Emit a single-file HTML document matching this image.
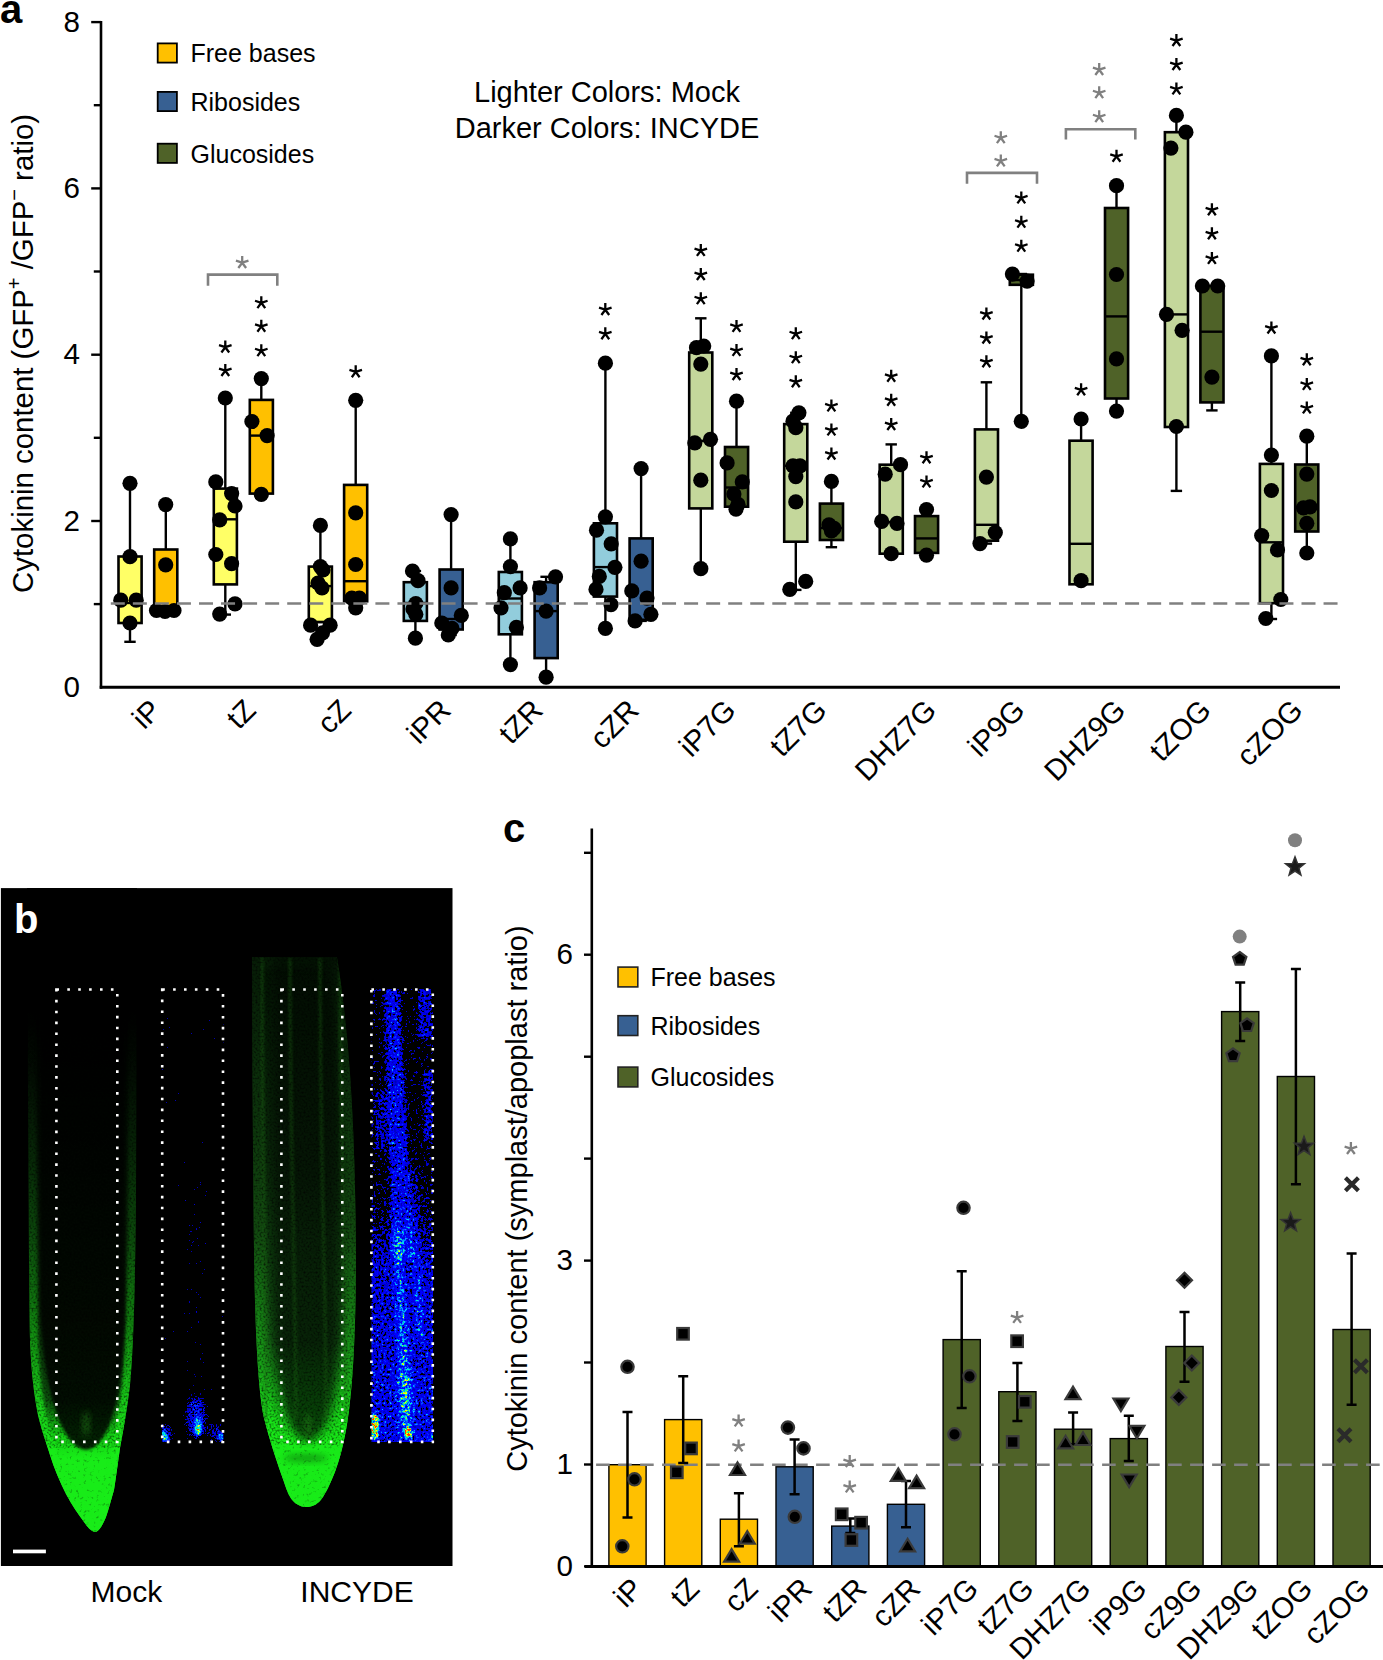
<!DOCTYPE html>
<html><head><meta charset="utf-8"><title>figure</title>
<style>
html,body{margin:0;padding:0;background:#fff;}
svg{display:block;}
text{font-family:"Liberation Sans", sans-serif;}
filter{color-interpolation-filters:sRGB;}
</style></head><body>
<svg width="1383" height="1660" viewBox="0 0 1383 1660" font-family='"Liberation Sans", sans-serif'>
<defs>
<clipPath id="clipb"><rect x="0.9" y="888.1" width="451.6" height="677.9"/></clipPath>
<clipPath id="cliph"><rect x="371.5" y="989" width="61.5" height="453"/></clipPath>
<linearGradient id="gm" gradientUnits="userSpaceOnUse" x1="0" y1="1000" x2="0" y2="1533">
<stop offset="0" stop-color="#000"/><stop offset="0.3" stop-color="#041004"/><stop offset="0.6" stop-color="#0a2a08"/>
<stop offset="0.75" stop-color="#0c500c"/><stop offset="0.82" stop-color="#14d014"/><stop offset="0.86" stop-color="#18ec18"/><stop offset="1" stop-color="#18ec18"/></linearGradient>
<linearGradient id="gme" gradientUnits="userSpaceOnUse" x1="0" y1="1000" x2="0" y2="1533">
<stop offset="0" stop-color="#000" stop-opacity="0"/><stop offset="0.2" stop-color="#062006" stop-opacity="0.6"/><stop offset="0.45" stop-color="#0c4c0c"/><stop offset="0.6" stop-color="#10800f"/>
<stop offset="0.76" stop-color="#18d018"/><stop offset="0.85" stop-color="#18ec18"/><stop offset="1" stop-color="#18ec18"/></linearGradient>
<linearGradient id="gmi" gradientUnits="userSpaceOnUse" x1="0" y1="860" x2="0" y2="1450">
<stop offset="0" stop-color="#000" stop-opacity="0.6"/><stop offset="0.6" stop-color="#000" stop-opacity="0.75"/><stop offset="1" stop-color="#000" stop-opacity="0.85"/></linearGradient>
<linearGradient id="gi" gradientUnits="userSpaceOnUse" x1="0" y1="957" x2="0" y2="1507">
<stop offset="0" stop-color="#041404"/><stop offset="0.4" stop-color="#0a280a"/>
<stop offset="0.7" stop-color="#125212"/><stop offset="0.84" stop-color="#18c818"/><stop offset="0.88" stop-color="#18ea18"/><stop offset="1" stop-color="#18ec18"/></linearGradient>
<linearGradient id="gie" gradientUnits="userSpaceOnUse" x1="0" y1="957" x2="0" y2="1507">
<stop offset="0" stop-color="#0a260a" stop-opacity="0.45"/><stop offset="0.5" stop-color="#124a10"/>
<stop offset="0.75" stop-color="#18a418"/><stop offset="0.85" stop-color="#18e818"/><stop offset="1" stop-color="#18ec18"/></linearGradient>
<linearGradient id="gii" gradientUnits="userSpaceOnUse" x1="0" y1="940" x2="0" y2="1441">
<stop offset="0" stop-color="#000" stop-opacity="0.35"/><stop offset="0.6" stop-color="#000" stop-opacity="0.45"/><stop offset="1" stop-color="#000" stop-opacity="0.7"/></linearGradient>
<linearGradient id="gh" gradientUnits="userSpaceOnUse" x1="0" y1="989" x2="0" y2="1442">
<stop offset="0" stop-color="#0000b8"/><stop offset="1" stop-color="#0010e8"/></linearGradient>
<clipPath id="clipm2"><rect x="162" y="989" width="61.5" height="453"/></clipPath>
<linearGradient id="ghl" gradientUnits="userSpaceOnUse" x1="0" y1="989" x2="0" y2="1442">
<stop offset="0" stop-color="#fff" stop-opacity="0"/><stop offset="0.45" stop-color="#fff" stop-opacity="0.05"/><stop offset="0.62" stop-color="#fff" stop-opacity="0.3"/><stop offset="1" stop-color="#fff" stop-opacity="0.36"/></linearGradient>
<linearGradient id="ghi" gradientUnits="userSpaceOnUse" x1="0" y1="989" x2="0" y2="1442">
<stop offset="0" stop-color="#fff" stop-opacity="0.27"/><stop offset="0.5" stop-color="#fff" stop-opacity="0.3"/><stop offset="1" stop-color="#fff" stop-opacity="0.34"/></linearGradient>
<filter id="jet1" x="0" y="0" width="100%" height="100%" filterUnits="userSpaceOnUse">
<feTurbulence type="fractalNoise" baseFrequency="0.55" numOctaves="2" seed="12" result="t"/>
<feColorMatrix in="t" type="matrix" values="1 0 0 0 0  1 0 0 0 0  1 0 0 0 0  0 0 0 0 1" result="n"/>
<feComposite in="SourceGraphic" in2="n" operator="arithmetic" k1="0" k2="1" k3="0.8" k4="-0.42" result="i"/>
<feComponentTransfer in="i">
<feFuncR type="discrete" tableValues="0 0 0 0 0 0 0 0 0 0 0 0 0 0 0 0 0.4 1 1 1"/>
<feFuncG type="discrete" tableValues="0 0 0 0 0 0 0 0 0 0.12 0.22 0.35 0.55 0.7 0.8 1 1 1 1 0.25"/>
<feFuncB type="discrete" tableValues="0 0 0 0 0 0.7 0.8 0.88 0.95 1 1 1 1 1 1 0.75 0.2 0 0 0"/>
<feFuncA type="discrete" tableValues="1"/>
</feComponentTransfer>
</filter>
<filter id="jet2" x="0" y="0" width="100%" height="100%" filterUnits="userSpaceOnUse">
<feTurbulence type="fractalNoise" baseFrequency="0.38" numOctaves="2" seed="5" result="t"/>
<feColorMatrix in="t" type="matrix" values="1 0 0 0 0  1 0 0 0 0  1 0 0 0 0  0 0 0 0 1" result="n"/>
<feComposite in="SourceGraphic" in2="n" operator="arithmetic" k1="0" k2="1" k3="1.0" k4="-0.5" result="i"/>
<feComponentTransfer in="i">
<feFuncR type="discrete" tableValues="0 0 0 0 0 0 0 0 0 0 0 0 0 0 0 0 0.5 1 1 1"/>
<feFuncG type="discrete" tableValues="0 0 0 0 0 0 0 0 0 0 0 0.2 0.35 0.6 0.8 1 1 1 0.8 0.2"/>
<feFuncB type="discrete" tableValues="0 0 0 0 0 0.72 0.8 0.88 0.94 1 1 1 1 1 1 0.6 0.2 0 0 0"/>
<feFuncA type="discrete" tableValues="1"/>
</feComponentTransfer>
</filter>
<filter id="blur1" x="-50%" y="-50%" width="200%" height="200%"><feGaussianBlur stdDeviation="1.5"/></filter>
<filter id="blur2" x="-50%" y="-50%" width="200%" height="200%"><feGaussianBlur stdDeviation="3"/></filter>
<filter id="blur3" x="-50%" y="-50%" width="200%" height="200%"><feGaussianBlur stdDeviation="4"/></filter>
<filter id="blur4" x="-50%" y="-50%" width="200%" height="200%"><feGaussianBlur stdDeviation="5"/></filter>
<filter id="rootn" x="-10%" y="-10%" width="120%" height="120%">
<feGaussianBlur in="SourceGraphic" stdDeviation="1.2" result="b"/>
<feTurbulence type="fractalNoise" baseFrequency="0.45" numOctaves="2" seed="7" result="t"/>
<feColorMatrix in="t" type="matrix" values="0 0 0 0 0  0 0 0 0 0  0 0 0 0 0  0.9 0 0 0 0.45" result="m"/>
<feComposite in="b" in2="m" operator="in"/>
</filter>
<filter id="darkn" x="0" y="0" width="100%" height="100%" filterUnits="userSpaceOnUse">
<feTurbulence type="fractalNoise" baseFrequency="0.5" numOctaves="2" seed="7" result="t"/>
<feColorMatrix in="t" type="matrix" values="0 0 0 0 0  0 0 0 0 0  0 0 0 0 0  1.6 0 0 0 -0.7" result="m"/>
<feComposite in="SourceGraphic" in2="m" operator="in"/>
</filter>
<filter id="darkn2" x="0" y="0" width="100%" height="100%" filterUnits="userSpaceOnUse">
<feTurbulence type="fractalNoise" baseFrequency="0.3" numOctaves="2" seed="2" result="t"/>
<feColorMatrix in="t" type="matrix" values="0 0 0 0 0  0 0 0 0 0  0 0 0 0 0  1.2 0 0 0 -0.72" result="m"/>
<feComposite in="SourceGraphic" in2="m" operator="in"/>
</filter>
<filter id="speck" x="0" y="0" width="100%" height="100%" filterUnits="userSpaceOnUse">
<feTurbulence type="fractalNoise" baseFrequency="0.6" numOctaves="1" seed="11" result="t"/>
<feColorMatrix in="t" type="matrix" values="0 0 0 0 0  0 0 0 0 0  0 0 0 0 0  8 0 0 0 -5.2" result="m"/>
<feComposite in="SourceGraphic" in2="m" operator="in"/>
</filter>
<filter id="speck2" x="0" y="0" width="100%" height="100%" filterUnits="userSpaceOnUse">
<feTurbulence type="fractalNoise" baseFrequency="0.5" numOctaves="1" seed="4" result="t"/>
<feColorMatrix in="t" type="matrix" values="0 0 0 0 0  0 0 0 0 0  0 0 0 0 0  6 0 0 0 -2.6" result="m"/>
<feComposite in="SourceGraphic" in2="m" operator="in"/>
</filter>
<filter id="speck3" x="0" y="0" width="100%" height="100%" filterUnits="userSpaceOnUse">
<feTurbulence type="fractalNoise" baseFrequency="0.4" numOctaves="2" seed="3" result="t"/>
<feColorMatrix in="t" type="matrix" values="0 0 0 0 0  0 0 0 0 0  0 0 0 0 0  7 0 0 0 -3.2" result="m"/>
<feComposite in="SourceGraphic" in2="m" operator="in"/>
</filter>
<filter id="speck5" x="-20%" y="-20%" width="140%" height="140%">
<feGaussianBlur in="SourceGraphic" stdDeviation="3" result="b"/>
<feTurbulence type="fractalNoise" baseFrequency="0.4" numOctaves="2" seed="21" result="t"/>
<feColorMatrix in="t" type="matrix" values="0 0 0 0 0  0 0 0 0 0  0 0 0 0 0  4 0 0 0 -0.9" result="m"/>
<feComposite in="b" in2="m" operator="in"/>
</filter>
<filter id="speck4" x="-20%" y="0" width="140%" height="100%">
<feGaussianBlur in="SourceGraphic" stdDeviation="4" result="b"/>
<feTurbulence type="fractalNoise" baseFrequency="0.45" numOctaves="2" seed="9" result="t"/>
<feColorMatrix in="t" type="matrix" values="0 0 0 0 0  0 0 0 0 0  0 0 0 0 0  5 0 0 0 -1.6" result="m"/>
<feComposite in="b" in2="m" operator="in"/>
</filter>
</defs><rect width="1383" height="1660" fill="#fff"/><line x1="101" y1="21" x2="101" y2="688.7" stroke="#000" stroke-width="2.6"/><text x="80" y="696.9" font-size="29.6" text-anchor="end">0</text><line x1="93.8" y1="604.1" x2="101" y2="604.1" stroke="#000" stroke-width="2.4"/><line x1="91.2" y1="521.0" x2="101" y2="521.0" stroke="#000" stroke-width="2.4"/><text x="80" y="530.6" font-size="29.6" text-anchor="end">2</text><line x1="93.8" y1="437.8" x2="101" y2="437.8" stroke="#000" stroke-width="2.4"/><line x1="91.2" y1="354.7" x2="101" y2="354.7" stroke="#000" stroke-width="2.4"/><text x="80" y="364.3" font-size="29.6" text-anchor="end">4</text><line x1="93.8" y1="271.5" x2="101" y2="271.5" stroke="#000" stroke-width="2.4"/><line x1="91.2" y1="188.4" x2="101" y2="188.4" stroke="#000" stroke-width="2.4"/><text x="80" y="198.0" font-size="29.6" text-anchor="end">6</text><line x1="93.8" y1="105.2" x2="101" y2="105.2" stroke="#000" stroke-width="2.4"/><line x1="91.2" y1="22.1" x2="101" y2="22.1" stroke="#000" stroke-width="2.4"/><text x="80" y="31.7" font-size="29.6" text-anchor="end">8</text><line x1="99.7" y1="687.3" x2="1340" y2="687.3" stroke="#000" stroke-width="2.9"/><text transform="translate(32.5,593) rotate(-90)" font-size="29.4">Cytokinin content (GFP<tspan font-size="20" dy="-12">+</tspan><tspan dy="12"> /GFP</tspan><tspan font-size="20" dy="-12">&#8722;</tspan><tspan dy="12"> ratio)</tspan></text><rect x="157.7" y="43.4" width="19.2" height="19.2" fill="#FFC000" stroke="#000" stroke-width="1.8"/><text x="190.5" y="62.2" font-size="25">Free bases</text><rect x="157.7" y="91.9" width="19.2" height="19.2" fill="#376092" stroke="#000" stroke-width="1.8"/><text x="190.5" y="110.7" font-size="25">Ribosides</text><rect x="157.7" y="143.7" width="19.2" height="19.2" fill="#4F6228" stroke="#000" stroke-width="1.8"/><text x="190.5" y="162.5" font-size="25">Glucosides</text><text x="607" y="102.1" font-size="29" text-anchor="middle">Lighter Colors: Mock</text><text x="607" y="137.6" font-size="29" text-anchor="middle">Darker Colors: INCYDE</text><text x="0" y="22.5" font-size="40" font-weight="bold">a</text><line x1="130.0" y1="483.3" x2="130.0" y2="556.5" stroke="#000" stroke-width="2.4"/><line x1="130.0" y1="623.0" x2="130.0" y2="641.8" stroke="#000" stroke-width="2.4"/><line x1="124.3" y1="483.3" x2="135.7" y2="483.3" stroke="#000" stroke-width="2.4"/><line x1="124.3" y1="641.8" x2="135.7" y2="641.8" stroke="#000" stroke-width="2.4"/><rect x="118.5" y="556.5" width="23.1" height="66.5" fill="#FFFF66" stroke="#000" stroke-width="2.6"/><line x1="118.5" y1="603.0" x2="141.6" y2="603.0" stroke="#000" stroke-width="2.4"/><line x1="165.8" y1="504.6" x2="165.8" y2="549.5" stroke="#000" stroke-width="2.4"/><line x1="165.8" y1="608.6" x2="165.8" y2="608.6" stroke="#000" stroke-width="2.4"/><line x1="160.1" y1="504.6" x2="171.5" y2="504.6" stroke="#000" stroke-width="2.4"/><line x1="160.1" y1="608.6" x2="171.5" y2="608.6" stroke="#000" stroke-width="2.4"/><rect x="154.2" y="549.5" width="23.1" height="59.1" fill="#FFC000" stroke="#000" stroke-width="2.6"/><line x1="154.2" y1="608.0" x2="177.4" y2="608.0" stroke="#000" stroke-width="2.4"/><line x1="225.3" y1="398.0" x2="225.3" y2="488.6" stroke="#000" stroke-width="2.4"/><line x1="225.3" y1="584.4" x2="225.3" y2="614.6" stroke="#000" stroke-width="2.4"/><line x1="219.6" y1="398.0" x2="231.0" y2="398.0" stroke="#000" stroke-width="2.4"/><line x1="219.6" y1="614.6" x2="231.0" y2="614.6" stroke="#000" stroke-width="2.4"/><rect x="213.8" y="488.6" width="23.1" height="95.8" fill="#FFFF66" stroke="#000" stroke-width="2.6"/><line x1="213.8" y1="519.3" x2="236.9" y2="519.3" stroke="#000" stroke-width="2.4"/><line x1="261.3" y1="378.6" x2="261.3" y2="399.9" stroke="#000" stroke-width="2.4"/><line x1="261.3" y1="493.6" x2="261.3" y2="494.4" stroke="#000" stroke-width="2.4"/><line x1="255.6" y1="378.6" x2="267.0" y2="378.6" stroke="#000" stroke-width="2.4"/><line x1="255.6" y1="494.4" x2="267.0" y2="494.4" stroke="#000" stroke-width="2.4"/><rect x="249.8" y="399.9" width="23.1" height="93.7" fill="#FFC000" stroke="#000" stroke-width="2.6"/><line x1="249.8" y1="435.6" x2="272.9" y2="435.6" stroke="#000" stroke-width="2.4"/><line x1="320.4" y1="525.4" x2="320.4" y2="566.6" stroke="#000" stroke-width="2.4"/><line x1="320.4" y1="622.0" x2="320.4" y2="622.0" stroke="#000" stroke-width="2.4"/><line x1="314.7" y1="525.4" x2="326.1" y2="525.4" stroke="#000" stroke-width="2.4"/><line x1="314.7" y1="622.0" x2="326.1" y2="622.0" stroke="#000" stroke-width="2.4"/><rect x="308.8" y="566.6" width="23.1" height="55.4" fill="#FFFF66" stroke="#000" stroke-width="2.6"/><line x1="308.8" y1="586.1" x2="331.9" y2="586.1" stroke="#000" stroke-width="2.4"/><line x1="355.7" y1="400.3" x2="355.7" y2="484.9" stroke="#000" stroke-width="2.4"/><line x1="355.7" y1="601.3" x2="355.7" y2="607.8" stroke="#000" stroke-width="2.4"/><line x1="350.0" y1="400.3" x2="361.4" y2="400.3" stroke="#000" stroke-width="2.4"/><line x1="350.0" y1="607.8" x2="361.4" y2="607.8" stroke="#000" stroke-width="2.4"/><rect x="344.1" y="484.9" width="23.1" height="116.4" fill="#FFC000" stroke="#000" stroke-width="2.6"/><line x1="344.1" y1="581.2" x2="367.2" y2="581.2" stroke="#000" stroke-width="2.4"/><line x1="415.4" y1="571.0" x2="415.4" y2="582.2" stroke="#000" stroke-width="2.4"/><line x1="415.4" y1="620.9" x2="415.4" y2="638.2" stroke="#000" stroke-width="2.4"/><line x1="409.7" y1="571.0" x2="421.1" y2="571.0" stroke="#000" stroke-width="2.4"/><line x1="409.7" y1="638.2" x2="421.1" y2="638.2" stroke="#000" stroke-width="2.4"/><rect x="403.8" y="582.2" width="23.1" height="38.7" fill="#92CDDC" stroke="#000" stroke-width="2.6"/><line x1="403.8" y1="603.0" x2="426.9" y2="603.0" stroke="#000" stroke-width="2.4"/><line x1="451.1" y1="514.6" x2="451.1" y2="569.5" stroke="#000" stroke-width="2.4"/><line x1="451.1" y1="629.5" x2="451.1" y2="635.0" stroke="#000" stroke-width="2.4"/><line x1="445.4" y1="514.6" x2="456.8" y2="514.6" stroke="#000" stroke-width="2.4"/><line x1="445.4" y1="635.0" x2="456.8" y2="635.0" stroke="#000" stroke-width="2.4"/><rect x="439.6" y="569.5" width="23.1" height="60.0" fill="#376092" stroke="#000" stroke-width="2.6"/><line x1="439.6" y1="619.0" x2="462.7" y2="619.0" stroke="#000" stroke-width="2.4"/><line x1="510.4" y1="538.9" x2="510.4" y2="572.0" stroke="#000" stroke-width="2.4"/><line x1="510.4" y1="634.3" x2="510.4" y2="664.6" stroke="#000" stroke-width="2.4"/><line x1="504.7" y1="538.9" x2="516.1" y2="538.9" stroke="#000" stroke-width="2.4"/><line x1="504.7" y1="664.6" x2="516.1" y2="664.6" stroke="#000" stroke-width="2.4"/><rect x="498.8" y="572.0" width="23.1" height="62.3" fill="#92CDDC" stroke="#000" stroke-width="2.6"/><line x1="498.8" y1="598.5" x2="521.9" y2="598.5" stroke="#000" stroke-width="2.4"/><line x1="546.1" y1="576.8" x2="546.1" y2="582.2" stroke="#000" stroke-width="2.4"/><line x1="546.1" y1="658.1" x2="546.1" y2="677.2" stroke="#000" stroke-width="2.4"/><line x1="540.4" y1="576.8" x2="551.8" y2="576.8" stroke="#000" stroke-width="2.4"/><line x1="540.4" y1="677.2" x2="551.8" y2="677.2" stroke="#000" stroke-width="2.4"/><rect x="534.6" y="582.2" width="23.1" height="75.9" fill="#376092" stroke="#000" stroke-width="2.6"/><line x1="534.6" y1="611.1" x2="557.6" y2="611.1" stroke="#000" stroke-width="2.4"/><line x1="605.4" y1="363.2" x2="605.4" y2="523.3" stroke="#000" stroke-width="2.4"/><line x1="605.4" y1="596.6" x2="605.4" y2="628.4" stroke="#000" stroke-width="2.4"/><line x1="599.7" y1="363.2" x2="611.1" y2="363.2" stroke="#000" stroke-width="2.4"/><line x1="599.7" y1="628.4" x2="611.1" y2="628.4" stroke="#000" stroke-width="2.4"/><rect x="593.9" y="523.3" width="23.1" height="73.3" fill="#92CDDC" stroke="#000" stroke-width="2.6"/><line x1="593.9" y1="567.1" x2="616.9" y2="567.1" stroke="#000" stroke-width="2.4"/><line x1="641.1" y1="468.6" x2="641.1" y2="538.4" stroke="#000" stroke-width="2.4"/><line x1="641.1" y1="619.8" x2="641.1" y2="620.9" stroke="#000" stroke-width="2.4"/><line x1="635.4" y1="468.6" x2="646.8" y2="468.6" stroke="#000" stroke-width="2.4"/><line x1="635.4" y1="620.9" x2="646.8" y2="620.9" stroke="#000" stroke-width="2.4"/><rect x="629.6" y="538.4" width="23.1" height="81.4" fill="#376092" stroke="#000" stroke-width="2.6"/><line x1="700.8" y1="318.3" x2="700.8" y2="352.5" stroke="#000" stroke-width="2.4"/><line x1="700.8" y1="508.4" x2="700.8" y2="568.7" stroke="#000" stroke-width="2.4"/><line x1="695.1" y1="318.3" x2="706.5" y2="318.3" stroke="#000" stroke-width="2.4"/><line x1="695.1" y1="568.7" x2="706.5" y2="568.7" stroke="#000" stroke-width="2.4"/><rect x="689.2" y="352.5" width="23.1" height="155.9" fill="#C4D79B" stroke="#000" stroke-width="2.6"/><line x1="689.2" y1="441.0" x2="712.3" y2="441.0" stroke="#000" stroke-width="2.4"/><line x1="736.5" y1="401.2" x2="736.5" y2="447.0" stroke="#000" stroke-width="2.4"/><line x1="736.5" y1="506.7" x2="736.5" y2="509.2" stroke="#000" stroke-width="2.4"/><line x1="730.8" y1="401.2" x2="742.2" y2="401.2" stroke="#000" stroke-width="2.4"/><line x1="730.8" y1="509.2" x2="742.2" y2="509.2" stroke="#000" stroke-width="2.4"/><rect x="725.0" y="447.0" width="23.1" height="59.7" fill="#4F6228" stroke="#000" stroke-width="2.6"/><line x1="725.0" y1="487.5" x2="748.0" y2="487.5" stroke="#000" stroke-width="2.4"/><line x1="795.8" y1="412.8" x2="795.8" y2="424.1" stroke="#000" stroke-width="2.4"/><line x1="795.8" y1="541.7" x2="795.8" y2="589.9" stroke="#000" stroke-width="2.4"/><line x1="790.1" y1="412.8" x2="801.5" y2="412.8" stroke="#000" stroke-width="2.4"/><line x1="790.1" y1="589.9" x2="801.5" y2="589.9" stroke="#000" stroke-width="2.4"/><rect x="784.2" y="424.1" width="23.1" height="117.6" fill="#C4D79B" stroke="#000" stroke-width="2.6"/><line x1="784.2" y1="465.8" x2="807.3" y2="465.8" stroke="#000" stroke-width="2.4"/><line x1="831.4" y1="481.4" x2="831.4" y2="503.6" stroke="#000" stroke-width="2.4"/><line x1="831.4" y1="540.0" x2="831.4" y2="547.2" stroke="#000" stroke-width="2.4"/><line x1="825.7" y1="481.4" x2="837.1" y2="481.4" stroke="#000" stroke-width="2.4"/><line x1="825.7" y1="547.2" x2="837.1" y2="547.2" stroke="#000" stroke-width="2.4"/><rect x="819.9" y="503.6" width="23.1" height="36.4" fill="#4F6228" stroke="#000" stroke-width="2.6"/><line x1="819.9" y1="528.0" x2="842.9" y2="528.0" stroke="#000" stroke-width="2.4"/><line x1="891.2" y1="444.4" x2="891.2" y2="464.7" stroke="#000" stroke-width="2.4"/><line x1="891.2" y1="553.7" x2="891.2" y2="553.7" stroke="#000" stroke-width="2.4"/><line x1="885.5" y1="444.4" x2="896.9" y2="444.4" stroke="#000" stroke-width="2.4"/><line x1="885.5" y1="553.7" x2="896.9" y2="553.7" stroke="#000" stroke-width="2.4"/><rect x="879.7" y="464.7" width="23.1" height="89.0" fill="#C4D79B" stroke="#000" stroke-width="2.6"/><line x1="879.7" y1="522.0" x2="902.8" y2="522.0" stroke="#000" stroke-width="2.4"/><line x1="926.5" y1="509.5" x2="926.5" y2="516.1" stroke="#000" stroke-width="2.4"/><line x1="926.5" y1="552.9" x2="926.5" y2="555.2" stroke="#000" stroke-width="2.4"/><line x1="920.8" y1="509.5" x2="932.2" y2="509.5" stroke="#000" stroke-width="2.4"/><line x1="920.8" y1="555.2" x2="932.2" y2="555.2" stroke="#000" stroke-width="2.4"/><rect x="915.0" y="516.1" width="23.1" height="36.8" fill="#4F6228" stroke="#000" stroke-width="2.6"/><line x1="915.0" y1="538.4" x2="938.0" y2="538.4" stroke="#000" stroke-width="2.4"/><line x1="986.4" y1="382.3" x2="986.4" y2="429.4" stroke="#000" stroke-width="2.4"/><line x1="986.4" y1="540.7" x2="986.4" y2="543.6" stroke="#000" stroke-width="2.4"/><line x1="980.7" y1="382.3" x2="992.1" y2="382.3" stroke="#000" stroke-width="2.4"/><line x1="980.7" y1="543.6" x2="992.1" y2="543.6" stroke="#000" stroke-width="2.4"/><rect x="974.9" y="429.4" width="23.1" height="111.3" fill="#C4D79B" stroke="#000" stroke-width="2.6"/><line x1="974.9" y1="524.8" x2="997.9" y2="524.8" stroke="#000" stroke-width="2.4"/><line x1="1021.3" y1="274.0" x2="1021.3" y2="274.7" stroke="#000" stroke-width="2.4"/><line x1="1021.3" y1="284.8" x2="1021.3" y2="421.3" stroke="#000" stroke-width="2.4"/><line x1="1015.6" y1="274.0" x2="1027.0" y2="274.0" stroke="#000" stroke-width="2.4"/><line x1="1015.6" y1="421.3" x2="1027.0" y2="421.3" stroke="#000" stroke-width="2.4"/><rect x="1009.8" y="274.7" width="23.1" height="10.1" fill="#4F6228" stroke="#000" stroke-width="2.6"/><line x1="1009.8" y1="280.0" x2="1032.8" y2="280.0" stroke="#000" stroke-width="2.4"/><line x1="1081.1" y1="419.0" x2="1081.1" y2="440.7" stroke="#000" stroke-width="2.4"/><line x1="1081.1" y1="584.3" x2="1081.1" y2="580.7" stroke="#000" stroke-width="2.4"/><line x1="1075.4" y1="419.0" x2="1086.8" y2="419.0" stroke="#000" stroke-width="2.4"/><line x1="1075.4" y1="580.7" x2="1086.8" y2="580.7" stroke="#000" stroke-width="2.4"/><rect x="1069.5" y="440.7" width="23.1" height="143.6" fill="#C4D79B" stroke="#000" stroke-width="2.6"/><line x1="1069.5" y1="543.8" x2="1092.6" y2="543.8" stroke="#000" stroke-width="2.4"/><line x1="1116.5" y1="185.7" x2="1116.5" y2="208.0" stroke="#000" stroke-width="2.4"/><line x1="1116.5" y1="398.5" x2="1116.5" y2="411.1" stroke="#000" stroke-width="2.4"/><line x1="1110.8" y1="185.7" x2="1122.2" y2="185.7" stroke="#000" stroke-width="2.4"/><line x1="1110.8" y1="411.1" x2="1122.2" y2="411.1" stroke="#000" stroke-width="2.4"/><rect x="1105.0" y="208.0" width="23.1" height="190.5" fill="#4F6228" stroke="#000" stroke-width="2.6"/><line x1="1105.0" y1="316.4" x2="1128.0" y2="316.4" stroke="#000" stroke-width="2.4"/><line x1="1176.4" y1="115.4" x2="1176.4" y2="132.2" stroke="#000" stroke-width="2.4"/><line x1="1176.4" y1="427.0" x2="1176.4" y2="490.9" stroke="#000" stroke-width="2.4"/><line x1="1170.7" y1="115.4" x2="1182.1" y2="115.4" stroke="#000" stroke-width="2.4"/><line x1="1170.7" y1="490.9" x2="1182.1" y2="490.9" stroke="#000" stroke-width="2.4"/><rect x="1164.9" y="132.2" width="23.1" height="294.8" fill="#C4D79B" stroke="#000" stroke-width="2.6"/><line x1="1164.9" y1="314.4" x2="1188.0" y2="314.4" stroke="#000" stroke-width="2.4"/><line x1="1211.9" y1="286.0" x2="1211.9" y2="286.0" stroke="#000" stroke-width="2.4"/><line x1="1211.9" y1="402.4" x2="1211.9" y2="410.4" stroke="#000" stroke-width="2.4"/><line x1="1206.2" y1="286.0" x2="1217.6" y2="286.0" stroke="#000" stroke-width="2.4"/><line x1="1206.2" y1="410.4" x2="1217.6" y2="410.4" stroke="#000" stroke-width="2.4"/><rect x="1200.4" y="286.0" width="23.1" height="116.4" fill="#4F6228" stroke="#000" stroke-width="2.6"/><line x1="1200.4" y1="331.7" x2="1223.5" y2="331.7" stroke="#000" stroke-width="2.4"/><line x1="1271.4" y1="355.9" x2="1271.4" y2="463.9" stroke="#000" stroke-width="2.4"/><line x1="1271.4" y1="603.2" x2="1271.4" y2="619.0" stroke="#000" stroke-width="2.4"/><line x1="1265.7" y1="355.9" x2="1277.1" y2="355.9" stroke="#000" stroke-width="2.4"/><line x1="1265.7" y1="619.0" x2="1277.1" y2="619.0" stroke="#000" stroke-width="2.4"/><rect x="1259.9" y="463.9" width="23.1" height="139.3" fill="#C4D79B" stroke="#000" stroke-width="2.6"/><line x1="1259.9" y1="542.3" x2="1283.0" y2="542.3" stroke="#000" stroke-width="2.4"/><line x1="1306.8" y1="436.2" x2="1306.8" y2="464.5" stroke="#000" stroke-width="2.4"/><line x1="1306.8" y1="531.5" x2="1306.8" y2="553.0" stroke="#000" stroke-width="2.4"/><line x1="1301.1" y1="436.2" x2="1312.5" y2="436.2" stroke="#000" stroke-width="2.4"/><line x1="1301.1" y1="553.0" x2="1312.5" y2="553.0" stroke="#000" stroke-width="2.4"/><rect x="1295.2" y="464.5" width="23.1" height="67.0" fill="#4F6228" stroke="#000" stroke-width="2.6"/><line x1="1295.2" y1="507.0" x2="1318.3" y2="507.0" stroke="#000" stroke-width="2.4"/><circle cx="130.0" cy="483.3" r="7.6"/><circle cx="130.0" cy="556.7" r="7.6"/><circle cx="120.8" cy="600.2" r="7.6"/><circle cx="136.2" cy="600.2" r="7.6"/><circle cx="130.0" cy="623.0" r="7.6"/><circle cx="165.7" cy="504.6" r="7.6"/><circle cx="165.7" cy="564.8" r="7.6"/><circle cx="156.5" cy="610.5" r="7.6"/><circle cx="165.0" cy="611.5" r="7.6"/><circle cx="174.0" cy="610.5" r="7.6"/><circle cx="225.3" cy="398.0" r="7.6"/><circle cx="215.8" cy="481.9" r="7.6"/><circle cx="231.6" cy="493.6" r="7.6"/><circle cx="235.0" cy="506.0" r="7.6"/><circle cx="219.7" cy="519.9" r="7.6"/><circle cx="215.8" cy="554.5" r="7.6"/><circle cx="231.6" cy="563.7" r="7.6"/><circle cx="235.0" cy="603.8" r="7.6"/><circle cx="219.7" cy="614.1" r="7.6"/><circle cx="261.3" cy="378.6" r="7.6"/><circle cx="251.9" cy="421.5" r="7.6"/><circle cx="267.1" cy="435.6" r="7.6"/><circle cx="261.3" cy="494.4" r="7.6"/><circle cx="320.4" cy="525.4" r="7.6"/><circle cx="320.4" cy="566.6" r="7.6"/><circle cx="323.0" cy="570.0" r="7.6"/><circle cx="318.0" cy="583.0" r="7.6"/><circle cx="322.0" cy="588.0" r="7.6"/><circle cx="310.6" cy="625.2" r="7.6"/><circle cx="330.1" cy="625.2" r="7.6"/><circle cx="322.5" cy="632.8" r="7.6"/><circle cx="317.1" cy="639.3" r="7.6"/><circle cx="355.7" cy="400.3" r="7.6"/><circle cx="355.7" cy="512.8" r="7.6"/><circle cx="355.7" cy="564.5" r="7.6"/><circle cx="351.8" cy="598.1" r="7.6"/><circle cx="359.4" cy="598.1" r="7.6"/><circle cx="355.7" cy="607.8" r="7.6"/><circle cx="412.5" cy="571.0" r="7.6"/><circle cx="418.0" cy="580.7" r="7.6"/><circle cx="415.8" cy="603.5" r="7.6"/><circle cx="413.0" cy="609.0" r="7.6"/><circle cx="415.8" cy="614.3" r="7.6"/><circle cx="415.4" cy="638.2" r="7.6"/><circle cx="451.1" cy="514.6" r="7.6"/><circle cx="451.1" cy="587.9" r="7.6"/><circle cx="461.3" cy="615.4" r="7.6"/><circle cx="441.8" cy="623.0" r="7.6"/><circle cx="452.0" cy="628.4" r="7.6"/><circle cx="448.3" cy="635.0" r="7.6"/><circle cx="510.4" cy="538.9" r="7.6"/><circle cx="510.4" cy="566.6" r="7.6"/><circle cx="520.1" cy="587.9" r="7.6"/><circle cx="504.3" cy="592.7" r="7.6"/><circle cx="501.0" cy="607.8" r="7.6"/><circle cx="516.4" cy="627.4" r="7.6"/><circle cx="510.4" cy="664.6" r="7.6"/><circle cx="555.5" cy="576.8" r="7.6"/><circle cx="539.6" cy="587.9" r="7.6"/><circle cx="546.1" cy="611.1" r="7.6"/><circle cx="546.1" cy="677.2" r="7.6"/><circle cx="605.4" cy="363.2" r="7.6"/><circle cx="605.4" cy="516.8" r="7.6"/><circle cx="596.5" cy="530.2" r="7.6"/><circle cx="611.2" cy="543.9" r="7.6"/><circle cx="614.9" cy="567.3" r="7.6"/><circle cx="599.3" cy="576.4" r="7.6"/><circle cx="596.0" cy="589.4" r="7.6"/><circle cx="611.0" cy="604.6" r="7.6"/><circle cx="605.4" cy="628.4" r="7.6"/><circle cx="641.1" cy="468.6" r="7.6"/><circle cx="641.1" cy="561.2" r="7.6"/><circle cx="631.8" cy="590.9" r="7.6"/><circle cx="647.0" cy="598.1" r="7.6"/><circle cx="650.9" cy="614.3" r="7.6"/><circle cx="635.1" cy="620.9" r="7.6"/><circle cx="696.5" cy="347.7" r="7.6"/><circle cx="703.7" cy="346.0" r="7.6"/><circle cx="700.8" cy="364.1" r="7.6"/><circle cx="694.8" cy="442.9" r="7.6"/><circle cx="710.5" cy="439.3" r="7.6"/><circle cx="700.8" cy="480.2" r="7.6"/><circle cx="700.8" cy="568.7" r="7.6"/><circle cx="736.5" cy="401.2" r="7.6"/><circle cx="727.1" cy="462.9" r="7.6"/><circle cx="742.3" cy="481.9" r="7.6"/><circle cx="733.9" cy="494.0" r="7.6"/><circle cx="738.0" cy="504.3" r="7.6"/><circle cx="736.0" cy="509.2" r="7.6"/><circle cx="798.9" cy="412.8" r="7.6"/><circle cx="793.0" cy="421.2" r="7.6"/><circle cx="795.8" cy="427.7" r="7.6"/><circle cx="793.0" cy="465.8" r="7.6"/><circle cx="800.0" cy="465.8" r="7.6"/><circle cx="795.8" cy="476.6" r="7.6"/><circle cx="795.8" cy="501.9" r="7.6"/><circle cx="805.7" cy="581.4" r="7.6"/><circle cx="789.8" cy="589.4" r="7.6"/><circle cx="831.4" cy="481.4" r="7.6"/><circle cx="829.0" cy="524.8" r="7.6"/><circle cx="834.0" cy="528.4" r="7.6"/><circle cx="831.4" cy="530.8" r="7.6"/><circle cx="885.2" cy="474.2" r="7.6"/><circle cx="900.5" cy="464.7" r="7.6"/><circle cx="881.7" cy="521.4" r="7.6"/><circle cx="897.0" cy="523.4" r="7.6"/><circle cx="891.2" cy="553.7" r="7.6"/><circle cx="926.5" cy="509.5" r="7.6"/><circle cx="926.5" cy="555.2" r="7.6"/><circle cx="986.4" cy="477.1" r="7.6"/><circle cx="995.3" cy="532.6" r="7.6"/><circle cx="980.0" cy="543.6" r="7.6"/><circle cx="1012.4" cy="274.1" r="7.6"/><circle cx="1027.1" cy="281.1" r="7.6"/><circle cx="1021.3" cy="421.3" r="7.6"/><circle cx="1081.1" cy="419.0" r="7.6"/><circle cx="1081.1" cy="580.7" r="7.6"/><circle cx="1116.5" cy="185.7" r="7.6"/><circle cx="1116.5" cy="274.5" r="7.6"/><circle cx="1116.5" cy="358.9" r="7.6"/><circle cx="1116.5" cy="411.1" r="7.6"/><circle cx="1176.4" cy="115.4" r="7.6"/><circle cx="1185.9" cy="132.2" r="7.6"/><circle cx="1170.9" cy="148.1" r="7.6"/><circle cx="1166.5" cy="314.4" r="7.6"/><circle cx="1182.1" cy="330.3" r="7.6"/><circle cx="1176.4" cy="426.5" r="7.6"/><circle cx="1202.4" cy="286.0" r="7.6"/><circle cx="1217.7" cy="286.0" r="7.6"/><circle cx="1211.9" cy="377.1" r="7.6"/><circle cx="1271.4" cy="355.9" r="7.6"/><circle cx="1271.4" cy="455.1" r="7.6"/><circle cx="1271.4" cy="490.5" r="7.6"/><circle cx="1261.7" cy="535.6" r="7.6"/><circle cx="1277.5" cy="549.9" r="7.6"/><circle cx="1280.8" cy="599.5" r="7.6"/><circle cx="1265.8" cy="618.5" r="7.6"/><circle cx="1306.8" cy="436.2" r="7.6"/><circle cx="1306.8" cy="474.1" r="7.6"/><circle cx="1303.5" cy="507.9" r="7.6"/><circle cx="1310.0" cy="506.9" r="7.6"/><circle cx="1306.8" cy="523.3" r="7.6"/><circle cx="1306.8" cy="553.0" r="7.6"/><line x1="110.8" y1="603.6" x2="1338" y2="603.6" stroke="#808080" stroke-width="2.5" stroke-dasharray="14 8.05"/><path d="M225.30 347.20L225.30 340.60M225.30 347.20L231.58 345.16M225.30 347.20L229.18 352.54M225.30 347.20L221.42 352.54M225.30 347.20L219.02 345.16" stroke="#000" stroke-width="2.30" fill="none"/><path d="M225.30 370.70L225.30 364.10M225.30 370.70L231.58 368.66M225.30 370.70L229.18 376.04M225.30 370.70L221.42 376.04M225.30 370.70L219.02 368.66" stroke="#000" stroke-width="2.30" fill="none"/><path d="M261.30 302.80L261.30 296.20M261.30 302.80L267.58 300.76M261.30 302.80L265.18 308.14M261.30 302.80L257.42 308.14M261.30 302.80L255.02 300.76" stroke="#000" stroke-width="2.30" fill="none"/><path d="M261.30 326.40L261.30 319.80M261.30 326.40L267.58 324.36M261.30 326.40L265.18 331.74M261.30 326.40L257.42 331.74M261.30 326.40L255.02 324.36" stroke="#000" stroke-width="2.30" fill="none"/><path d="M261.30 350.80L261.30 344.20M261.30 350.80L267.58 348.76M261.30 350.80L265.18 356.14M261.30 350.80L257.42 356.14M261.30 350.80L255.02 348.76" stroke="#000" stroke-width="2.30" fill="none"/><path d="M355.70 371.90L355.70 365.30M355.70 371.90L361.98 369.86M355.70 371.90L359.58 377.24M355.70 371.90L351.82 377.24M355.70 371.90L349.42 369.86" stroke="#000" stroke-width="2.30" fill="none"/><path d="M605.30 309.70L605.30 303.10M605.30 309.70L611.58 307.66M605.30 309.70L609.18 315.04M605.30 309.70L601.42 315.04M605.30 309.70L599.02 307.66" stroke="#000" stroke-width="2.30" fill="none"/><path d="M605.30 333.90L605.30 327.30M605.30 333.90L611.58 331.86M605.30 333.90L609.18 339.24M605.30 333.90L601.42 339.24M605.30 333.90L599.02 331.86" stroke="#000" stroke-width="2.30" fill="none"/><path d="M700.80 250.60L700.80 244.00M700.80 250.60L707.08 248.56M700.80 250.60L704.68 255.94M700.80 250.60L696.92 255.94M700.80 250.60L694.52 248.56" stroke="#000" stroke-width="2.30" fill="none"/><path d="M700.80 274.70L700.80 268.10M700.80 274.70L707.08 272.66M700.80 274.70L704.68 280.04M700.80 274.70L696.92 280.04M700.80 274.70L694.52 272.66" stroke="#000" stroke-width="2.30" fill="none"/><path d="M700.80 298.80L700.80 292.20M700.80 298.80L707.08 296.76M700.80 298.80L704.68 304.14M700.80 298.80L696.92 304.14M700.80 298.80L694.52 296.76" stroke="#000" stroke-width="2.30" fill="none"/><path d="M736.50 326.50L736.50 319.90M736.50 326.50L742.78 324.46M736.50 326.50L740.38 331.84M736.50 326.50L732.62 331.84M736.50 326.50L730.22 324.46" stroke="#000" stroke-width="2.30" fill="none"/><path d="M736.50 350.60L736.50 344.00M736.50 350.60L742.78 348.56M736.50 350.60L740.38 355.94M736.50 350.60L732.62 355.94M736.50 350.60L730.22 348.56" stroke="#000" stroke-width="2.30" fill="none"/><path d="M736.50 374.70L736.50 368.10M736.50 374.70L742.78 372.66M736.50 374.70L740.38 380.04M736.50 374.70L732.62 380.04M736.50 374.70L730.22 372.66" stroke="#000" stroke-width="2.30" fill="none"/><path d="M795.80 333.80L795.80 327.20M795.80 333.80L802.08 331.76M795.80 333.80L799.68 339.14M795.80 333.80L791.92 339.14M795.80 333.80L789.52 331.76" stroke="#000" stroke-width="2.30" fill="none"/><path d="M795.80 357.80L795.80 351.20M795.80 357.80L802.08 355.76M795.80 357.80L799.68 363.14M795.80 357.80L791.92 363.14M795.80 357.80L789.52 355.76" stroke="#000" stroke-width="2.30" fill="none"/><path d="M795.80 381.90L795.80 375.30M795.80 381.90L802.08 379.86M795.80 381.90L799.68 387.24M795.80 381.90L791.92 387.24M795.80 381.90L789.52 379.86" stroke="#000" stroke-width="2.30" fill="none"/><path d="M831.40 406.00L831.40 399.40M831.40 406.00L837.68 403.96M831.40 406.00L835.28 411.34M831.40 406.00L827.52 411.34M831.40 406.00L825.12 403.96" stroke="#000" stroke-width="2.30" fill="none"/><path d="M831.40 430.10L831.40 423.50M831.40 430.10L837.68 428.06M831.40 430.10L835.28 435.44M831.40 430.10L827.52 435.44M831.40 430.10L825.12 428.06" stroke="#000" stroke-width="2.30" fill="none"/><path d="M831.40 454.20L831.40 447.60M831.40 454.20L837.68 452.16M831.40 454.20L835.28 459.54M831.40 454.20L827.52 459.54M831.40 454.20L825.12 452.16" stroke="#000" stroke-width="2.30" fill="none"/><path d="M891.20 376.40L891.20 369.80M891.20 376.40L897.48 374.36M891.20 376.40L895.08 381.74M891.20 376.40L887.32 381.74M891.20 376.40L884.92 374.36" stroke="#000" stroke-width="2.30" fill="none"/><path d="M891.20 400.40L891.20 393.80M891.20 400.40L897.48 398.36M891.20 400.40L895.08 405.74M891.20 400.40L887.32 405.74M891.20 400.40L884.92 398.36" stroke="#000" stroke-width="2.30" fill="none"/><path d="M891.20 424.70L891.20 418.10M891.20 424.70L897.48 422.66M891.20 424.70L895.08 430.04M891.20 424.70L887.32 430.04M891.20 424.70L884.92 422.66" stroke="#000" stroke-width="2.30" fill="none"/><path d="M926.50 457.90L926.50 451.30M926.50 457.90L932.78 455.86M926.50 457.90L930.38 463.24M926.50 457.90L922.62 463.24M926.50 457.90L920.22 455.86" stroke="#000" stroke-width="2.30" fill="none"/><path d="M926.50 482.00L926.50 475.40M926.50 482.00L932.78 479.96M926.50 482.00L930.38 487.34M926.50 482.00L922.62 487.34M926.50 482.00L920.22 479.96" stroke="#000" stroke-width="2.30" fill="none"/><path d="M986.40 314.20L986.40 307.60M986.40 314.20L992.68 312.16M986.40 314.20L990.28 319.54M986.40 314.20L982.52 319.54M986.40 314.20L980.12 312.16" stroke="#000" stroke-width="2.30" fill="none"/><path d="M986.40 338.20L986.40 331.60M986.40 338.20L992.68 336.16M986.40 338.20L990.28 343.54M986.40 338.20L982.52 343.54M986.40 338.20L980.12 336.16" stroke="#000" stroke-width="2.30" fill="none"/><path d="M986.40 361.90L986.40 355.30M986.40 361.90L992.68 359.86M986.40 361.90L990.28 367.24M986.40 361.90L982.52 367.24M986.40 361.90L980.12 359.86" stroke="#000" stroke-width="2.30" fill="none"/><path d="M1021.30 198.00L1021.30 191.40M1021.30 198.00L1027.58 195.96M1021.30 198.00L1025.18 203.34M1021.30 198.00L1017.42 203.34M1021.30 198.00L1015.02 195.96" stroke="#000" stroke-width="2.30" fill="none"/><path d="M1021.30 222.30L1021.30 215.70M1021.30 222.30L1027.58 220.26M1021.30 222.30L1025.18 227.64M1021.30 222.30L1017.42 227.64M1021.30 222.30L1015.02 220.26" stroke="#000" stroke-width="2.30" fill="none"/><path d="M1021.30 246.30L1021.30 239.70M1021.30 246.30L1027.58 244.26M1021.30 246.30L1025.18 251.64M1021.30 246.30L1017.42 251.64M1021.30 246.30L1015.02 244.26" stroke="#000" stroke-width="2.30" fill="none"/><path d="M1081.10 389.90L1081.10 383.30M1081.10 389.90L1087.38 387.86M1081.10 389.90L1084.98 395.24M1081.10 389.90L1077.22 395.24M1081.10 389.90L1074.82 387.86" stroke="#000" stroke-width="2.30" fill="none"/><path d="M1116.50 156.40L1116.50 149.80M1116.50 156.40L1122.78 154.36M1116.50 156.40L1120.38 161.74M1116.50 156.40L1112.62 161.74M1116.50 156.40L1110.22 154.36" stroke="#000" stroke-width="2.30" fill="none"/><path d="M1176.40 40.70L1176.40 34.10M1176.40 40.70L1182.68 38.66M1176.40 40.70L1180.28 46.04M1176.40 40.70L1172.52 46.04M1176.40 40.70L1170.12 38.66" stroke="#000" stroke-width="2.30" fill="none"/><path d="M1176.40 64.70L1176.40 58.10M1176.40 64.70L1182.68 62.66M1176.40 64.70L1180.28 70.04M1176.40 64.70L1172.52 70.04M1176.40 64.70L1170.12 62.66" stroke="#000" stroke-width="2.30" fill="none"/><path d="M1176.40 89.00L1176.40 82.40M1176.40 89.00L1182.68 86.96M1176.40 89.00L1180.28 94.34M1176.40 89.00L1172.52 94.34M1176.40 89.00L1170.12 86.96" stroke="#000" stroke-width="2.30" fill="none"/><path d="M1211.90 209.90L1211.90 203.30M1211.90 209.90L1218.18 207.86M1211.90 209.90L1215.78 215.24M1211.90 209.90L1208.02 215.24M1211.90 209.90L1205.62 207.86" stroke="#000" stroke-width="2.30" fill="none"/><path d="M1211.90 233.90L1211.90 227.30M1211.90 233.90L1218.18 231.86M1211.90 233.90L1215.78 239.24M1211.90 233.90L1208.02 239.24M1211.90 233.90L1205.62 231.86" stroke="#000" stroke-width="2.30" fill="none"/><path d="M1211.90 258.50L1211.90 251.90M1211.90 258.50L1218.18 256.46M1211.90 258.50L1215.78 263.84M1211.90 258.50L1208.02 263.84M1211.90 258.50L1205.62 256.46" stroke="#000" stroke-width="2.30" fill="none"/><path d="M1271.40 328.20L1271.40 321.60M1271.40 328.20L1277.68 326.16M1271.40 328.20L1275.28 333.54M1271.40 328.20L1267.52 333.54M1271.40 328.20L1265.12 326.16" stroke="#000" stroke-width="2.30" fill="none"/><path d="M1306.80 359.90L1306.80 353.30M1306.80 359.90L1313.08 357.86M1306.80 359.90L1310.68 365.24M1306.80 359.90L1302.92 365.24M1306.80 359.90L1300.52 357.86" stroke="#000" stroke-width="2.30" fill="none"/><path d="M1306.80 384.50L1306.80 377.90M1306.80 384.50L1313.08 382.46M1306.80 384.50L1310.68 389.84M1306.80 384.50L1302.92 389.84M1306.80 384.50L1300.52 382.46" stroke="#000" stroke-width="2.30" fill="none"/><path d="M1306.80 408.00L1306.80 401.40M1306.80 408.00L1313.08 405.96M1306.80 408.00L1310.68 413.34M1306.80 408.00L1302.92 413.34M1306.80 408.00L1300.52 405.96" stroke="#000" stroke-width="2.30" fill="none"/><path d="M208.0 285.8V274.6H277.3V285.8" fill="none" stroke="#808080" stroke-width="2.6"/><path d="M242.20 262.70L242.20 256.10M242.20 262.70L248.48 260.66M242.20 262.70L246.08 268.04M242.20 262.70L238.32 268.04M242.20 262.70L235.92 260.66" stroke="#808080" stroke-width="2.30" fill="none"/><path d="M967.0 183.7V172.9H1037.0V183.7" fill="none" stroke="#808080" stroke-width="2.6"/><path d="M1000.80 137.80L1000.80 131.20M1000.80 137.80L1007.08 135.76M1000.80 137.80L1004.68 143.14M1000.80 137.80L996.92 143.14M1000.80 137.80L994.52 135.76" stroke="#808080" stroke-width="2.30" fill="none"/><path d="M1000.80 161.00L1000.80 154.40M1000.80 161.00L1007.08 158.96M1000.80 161.00L1004.68 166.34M1000.80 161.00L996.92 166.34M1000.80 161.00L994.52 158.96" stroke="#808080" stroke-width="2.30" fill="none"/><path d="M1065.9 139.5V129.3H1135.3V139.5" fill="none" stroke="#808080" stroke-width="2.6"/><path d="M1099.20 69.70L1099.20 63.10M1099.20 69.70L1105.48 67.66M1099.20 69.70L1103.08 75.04M1099.20 69.70L1095.32 75.04M1099.20 69.70L1092.92 67.66" stroke="#808080" stroke-width="2.30" fill="none"/><path d="M1099.20 92.80L1099.20 86.20M1099.20 92.80L1105.48 90.76M1099.20 92.80L1103.08 98.14M1099.20 92.80L1095.32 98.14M1099.20 92.80L1092.92 90.76" stroke="#808080" stroke-width="2.30" fill="none"/><path d="M1099.20 116.80L1099.20 110.20M1099.20 116.80L1105.48 114.76M1099.20 116.80L1103.08 122.14M1099.20 116.80L1095.32 122.14M1099.20 116.80L1092.92 114.76" stroke="#808080" stroke-width="2.30" fill="none"/><text transform="translate(162.8,712) rotate(-45)" font-size="29.5" text-anchor="end">iP</text><text transform="translate(257.4,712) rotate(-45)" font-size="29.5" text-anchor="end">tZ</text><text transform="translate(352.7,712) rotate(-45)" font-size="29.5" text-anchor="end">cZ</text><text transform="translate(452.6,712) rotate(-45)" font-size="29.5" text-anchor="end">iPR</text><text transform="translate(544.6,712) rotate(-45)" font-size="29.5" text-anchor="end">tZR</text><text transform="translate(640.6,712) rotate(-45)" font-size="29.5" text-anchor="end">cZR</text><text transform="translate(737.6,712) rotate(-45)" font-size="29.5" text-anchor="end">iP7G</text><text transform="translate(828.4,712) rotate(-45)" font-size="29.5" text-anchor="end">tZ7G</text><text transform="translate(938.0,712) rotate(-45)" font-size="29.5" text-anchor="end">DHZ7G</text><text transform="translate(1026.5,712) rotate(-45)" font-size="29.5" text-anchor="end">iP9G</text><text transform="translate(1127.3,712) rotate(-45)" font-size="29.5" text-anchor="end">DHZ9G</text><text transform="translate(1212.8,712) rotate(-45)" font-size="29.5" text-anchor="end">tZOG</text><text transform="translate(1304.5,712) rotate(-45)" font-size="29.5" text-anchor="end">cZOG</text><rect x="0.9" y="888.1" width="451.6" height="677.9" fill="#000"/><g clip-path="url(#clipb)"><defs><clipPath id="clipmock"><path d="M27 888 L28 1100 C29 1200 29 1300 30 1340 C31 1370 34 1395 38 1415 C42 1432 46 1442 50 1455 C54 1468 60 1482 66 1494 C72 1505 78 1514 84 1522 C88 1528 92 1532 96 1532 C100 1530 103 1524 106 1517 C109 1508 111 1500 114 1490 C116 1477 118 1462 120 1448 C123 1432 127 1410 130 1385 C133 1355 135 1300 136 1200 L137 888 Z"/></clipPath></defs><g clip-path="url(#clipmock)"><rect x="20" y="888" width="125" height="650" fill="url(#gm)"/><path d="M27 888 L28 1100 C29 1200 29 1300 30 1340 C31 1370 34 1395 38 1415 C42 1432 46 1442 50 1455 C54 1468 60 1482 66 1494 C72 1505 78 1514 84 1522 C88 1528 92 1532 96 1532 C100 1530 103 1524 106 1517 C109 1508 111 1500 114 1490 C116 1477 118 1462 120 1448 C123 1432 127 1410 130 1385 C133 1355 135 1300 136 1200 L137 888 Z" fill="none" stroke="url(#gme)" stroke-width="16" filter="url(#blur1)"/><path d="M40 860 L40 1300 C42 1385 60 1447 86 1450 C112 1447 125 1385 125 1300 L125 860 Z" fill="url(#gmi)" filter="url(#blur1)"/><ellipse cx="86" cy="1424" rx="3.5" ry="13" fill="#1c6a14" opacity="0.8" filter="url(#blur2)"/><rect x="10" y="888" width="140" height="560" fill="#000" filter="url(#darkn)"/><rect x="10" y="1448" width="140" height="100" fill="#000" filter="url(#darkn2)"/></g><defs><clipPath id="clipinc"><path d="M252 957 C252 1050 253 1150 254 1250 C255 1330 258 1390 264 1418 C270 1442 277 1462 284 1482 C288 1494 292 1506 306 1507 C319 1507 323 1497 328 1488 C336 1472 344 1450 349 1410 C353 1380 356 1330 356 1250 C355 1150 352 1050 337 957 Z"/></clipPath></defs><g clip-path="url(#clipinc)"><rect x="245" y="950" width="120" height="560" fill="url(#gi)"/><path d="M252 957 C252 1050 253 1150 254 1250 C255 1330 258 1390 264 1418 C270 1442 277 1462 284 1482 C288 1494 292 1506 306 1507 C319 1507 323 1497 328 1488 C336 1472 344 1450 349 1410 C353 1380 356 1330 356 1250 C355 1150 352 1050 337 957 Z" fill="none" stroke="url(#gie)" stroke-width="22" filter="url(#blur2)"/><path d="M274 940 L274 1300 C276 1390 286 1438 308 1441 C330 1438 338 1390 338 1300 L338 940 Z" fill="url(#gii)" filter="url(#blur3)"/><path d="M262 958 C262 1150 266 1300 266 1420" stroke="#1f6a16" stroke-width="2.5" fill="none" opacity="0.5" filter="url(#blur1)"/><path d="M290 958 C290 1150 296 1300 296 1420" stroke="#1f6a16" stroke-width="2.5" fill="none" opacity="0.5" filter="url(#blur1)"/><path d="M320 958 C320 1150 326 1300 326 1420" stroke="#1f6a16" stroke-width="2.5" fill="none" opacity="0.5" filter="url(#blur1)"/><path d="M340 958 C340 1150 346 1300 346 1420" stroke="#1f6a16" stroke-width="2.5" fill="none" opacity="0.5" filter="url(#blur1)"/><ellipse cx="308" cy="1426" rx="4" ry="13" fill="#1f7a16" opacity="0.7" filter="url(#blur2)"/><ellipse cx="306" cy="1458" rx="22" ry="4" fill="#000" opacity="0.3" filter="url(#blur2)"/><rect x="240" y="940" width="130" height="505" fill="#000" filter="url(#darkn)"/><rect x="240" y="1445" width="130" height="100" fill="#000" filter="url(#darkn2)"/></g><g clip-path="url(#clipm2)"><g filter="url(#jet1)"><rect x="161" y="988" width="63" height="456" fill="#000"/><rect x="186" y="1180" width="20" height="230" fill="#fff" opacity="0.07" filter="url(#blur2)"/><ellipse cx="196" cy="1418" rx="11" ry="22" fill="#fff" opacity="0.36" filter="url(#blur2)"/><ellipse cx="198" cy="1426" rx="4" ry="10" fill="#fff" opacity="0.5" filter="url(#blur1)"/><ellipse cx="198.5" cy="1430" rx="2.5" ry="5" fill="#fff" opacity="0.58" filter="url(#blur1)"/><path d="M162 1427 L171 1442 L162 1442 Z" fill="#fff" opacity="0.7" filter="url(#blur1)"/><ellipse cx="166" cy="1432" rx="7" ry="9" fill="#fff" opacity="0.35" filter="url(#blur2)"/><ellipse cx="221" cy="1437" rx="3" ry="5" fill="#fff" opacity="0.62" filter="url(#blur1)"/><ellipse cx="215" cy="1432" rx="8" ry="10" fill="#fff" opacity="0.3" filter="url(#blur2)"/></g></g><g clip-path="url(#cliph)"><g filter="url(#jet2)"><rect x="370" y="988" width="65" height="456" fill="#000"/><rect x="371" y="989" width="62" height="453" fill="#fff" opacity="0.07"/><path d="M384 989 L400 989 C403 1080 410 1170 414 1260 L392 1260 C390 1170 386 1080 384 989 Z" fill="#fff" opacity="0.3" filter="url(#blur1)"/><path d="M388 989 L398 989 C401 1060 404 1120 406 1180 L398 1180 C394 1120 390 1060 388 989 Z" fill="#fff" opacity="0.08" filter="url(#blur1)"/><rect x="418" y="989" width="14" height="50" fill="#fff" opacity="0.28" filter="url(#blur1)"/><rect x="424" y="1070" width="9" height="70" fill="#fff" opacity="0.26" filter="url(#blur1)"/><rect x="375" y="1090" width="14" height="60" fill="#fff" opacity="0.22" filter="url(#blur2)"/><rect x="371" y="989" width="62" height="453" fill="url(#ghl)"/><path d="M393 1230 C396 1280 398 1330 402 1440 L412 1440 C408 1330 403 1280 400 1230 Z" fill="#fff" opacity="0.42" filter="url(#blur2)"/><path d="M410 1170 C413 1230 416 1290 417 1340 L423 1340 C421 1290 418 1230 415 1170 Z" fill="#fff" opacity="0.36" filter="url(#blur2)"/><ellipse cx="405" cy="1395" rx="9" ry="26" fill="#fff" opacity="0.18" filter="url(#blur2)"/><ellipse cx="375" cy="1426" rx="4.5" ry="14" fill="#fff" opacity="0.75" filter="url(#blur1)"/><ellipse cx="408" cy="1432" rx="3.5" ry="6" fill="#fff" opacity="0.8" filter="url(#blur1)"/><ellipse cx="431" cy="1437" rx="2" ry="4" fill="#fff" opacity="0.5" filter="url(#blur1)"/></g></g></g><rect x="56.4" y="989.5" width="60.9" height="452.4" fill="none" stroke="#fff" stroke-width="2.6" stroke-dasharray="2.6 8.3"/><rect x="162.2" y="989.5" width="60.8" height="452.4" fill="none" stroke="#fff" stroke-width="2.6" stroke-dasharray="2.6 8.3"/><rect x="281.4" y="989.5" width="60.9" height="452.4" fill="none" stroke="#fff" stroke-width="2.6" stroke-dasharray="2.6 8.3"/><rect x="371.4" y="989.5" width="61.4" height="452.4" fill="none" stroke="#fff" stroke-width="2.6" stroke-dasharray="2.6 8.3"/><text x="14" y="933" font-size="40" font-weight="bold" fill="#fff">b</text><rect x="13" y="1549.6" width="32.9" height="3.7" fill="#fff"/><text x="126.3" y="1601.6" font-size="30" text-anchor="middle">Mock</text><text x="357" y="1601.6" font-size="30" text-anchor="middle">INCYDE</text><line x1="591.8" y1="828.5" x2="591.8" y2="1567.4" stroke="#000" stroke-width="2.6"/><line x1="584" y1="1566.4" x2="591.8" y2="1566.4" stroke="#000" stroke-width="2.4"/><text x="573" y="1576.0" font-size="29.6" text-anchor="end">0</text><line x1="584" y1="1464.5" x2="591.8" y2="1464.5" stroke="#000" stroke-width="2.4"/><text x="573" y="1474.0" font-size="29.6" text-anchor="end">1</text><line x1="584" y1="1362.5" x2="591.8" y2="1362.5" stroke="#000" stroke-width="2.4"/><line x1="584" y1="1260.6" x2="591.8" y2="1260.6" stroke="#000" stroke-width="2.4"/><text x="573" y="1270.2" font-size="29.6" text-anchor="end">3</text><line x1="584" y1="1158.6" x2="591.8" y2="1158.6" stroke="#000" stroke-width="2.4"/><line x1="584" y1="1056.7" x2="591.8" y2="1056.7" stroke="#000" stroke-width="2.4"/><line x1="584" y1="954.7" x2="591.8" y2="954.7" stroke="#000" stroke-width="2.4"/><text x="573" y="964.3" font-size="29.6" text-anchor="end">6</text><line x1="584" y1="852.8" x2="591.8" y2="852.8" stroke="#000" stroke-width="2.4"/><text x="503" y="841.5" font-size="40" font-weight="bold">c</text><text transform="translate(527,1471.8) rotate(-90)" font-size="29">Cytokinin content (symplast/apoplast ratio)</text><rect x="618" y="967.1" width="19.8" height="19.8" fill="#FFC000" stroke="#222" stroke-width="1.6"/><text x="650.5" y="986.1" font-size="25" >Free bases</text><rect x="618" y="1015.7" width="19.8" height="19.8" fill="#376092" stroke="#222" stroke-width="1.6"/><text x="650.5" y="1034.7" font-size="25" >Ribosides</text><rect x="618" y="1067.1" width="19.8" height="19.8" fill="#4F6228" stroke="#222" stroke-width="1.6"/><text x="650.5" y="1086.1" font-size="25" >Glucosides</text><rect x="608.9" y="1464.7" width="37.2" height="101.3" fill="#FFC000" stroke="#000" stroke-width="1.4"/><rect x="664.6" y="1419.6" width="37.2" height="146.4" fill="#FFC000" stroke="#000" stroke-width="1.4"/><rect x="720.3" y="1519.2" width="37.2" height="46.8" fill="#FFC000" stroke="#000" stroke-width="1.4"/><rect x="776.0" y="1466.8" width="37.2" height="99.2" fill="#376092" stroke="#000" stroke-width="1.4"/><rect x="831.7" y="1526.1" width="37.2" height="39.9" fill="#376092" stroke="#000" stroke-width="1.4"/><rect x="887.4" y="1504.3" width="37.2" height="61.7" fill="#376092" stroke="#000" stroke-width="1.4"/><rect x="943.1" y="1339.6" width="37.2" height="226.4" fill="#4F6228" stroke="#000" stroke-width="1.4"/><rect x="998.8" y="1391.7" width="37.2" height="174.3" fill="#4F6228" stroke="#000" stroke-width="1.4"/><rect x="1054.5" y="1429.2" width="37.2" height="136.8" fill="#4F6228" stroke="#000" stroke-width="1.4"/><rect x="1110.2" y="1438.6" width="37.2" height="127.4" fill="#4F6228" stroke="#000" stroke-width="1.4"/><rect x="1165.9" y="1346.5" width="37.2" height="219.5" fill="#4F6228" stroke="#000" stroke-width="1.4"/><rect x="1221.6" y="1011.6" width="37.2" height="554.4" fill="#4F6228" stroke="#000" stroke-width="1.4"/><rect x="1277.3" y="1076.5" width="37.2" height="489.5" fill="#4F6228" stroke="#000" stroke-width="1.4"/><rect x="1333.0" y="1329.5" width="37.2" height="236.5" fill="#4F6228" stroke="#000" stroke-width="1.4"/><line x1="585" y1="1566.5" x2="1383" y2="1566.5" stroke="#000" stroke-width="2.8"/><line x1="596.1" y1="1464.8" x2="1383" y2="1464.8" stroke="#808080" stroke-width="2.4" stroke-dasharray="13.6 8.4"/><path d="M622.5 1412.0H632.5M627.5 1412.0V1517.5M622.5 1517.5H632.5" stroke="#000" stroke-width="2.5" fill="none"/><path d="M678.2 1376.2H688.2M683.2 1376.2V1463.0M678.2 1463.0H688.2" stroke="#000" stroke-width="2.5" fill="none"/><path d="M733.9 1493.2H743.9M738.9 1493.2V1546.3M733.9 1546.3H743.9" stroke="#000" stroke-width="2.5" fill="none"/><path d="M789.6 1439.4H799.6M794.6 1439.4V1494.2M789.6 1494.2H799.6" stroke="#000" stroke-width="2.5" fill="none"/><path d="M845.3 1518.5H855.3M850.3 1518.5V1533.0M845.3 1533.0H855.3" stroke="#000" stroke-width="2.5" fill="none"/><path d="M901.0 1481.0H911.0M906.0 1481.0V1527.2M901.0 1527.2H911.0" stroke="#000" stroke-width="2.5" fill="none"/><path d="M956.7 1271.2H966.7M961.7 1271.2V1408.1M956.7 1408.1H966.7" stroke="#000" stroke-width="2.5" fill="none"/><path d="M1012.4 1363.0H1022.4M1017.4 1363.0V1420.9M1012.4 1420.9H1022.4" stroke="#000" stroke-width="2.5" fill="none"/><path d="M1068.1 1412.5H1078.1M1073.1 1412.5V1444.3M1068.1 1444.3H1078.1" stroke="#000" stroke-width="2.5" fill="none"/><path d="M1123.8 1415.8H1133.8M1128.8 1415.8V1461.0M1123.8 1461.0H1133.8" stroke="#000" stroke-width="2.5" fill="none"/><path d="M1179.5 1312.1H1189.5M1184.5 1312.1V1381.7M1179.5 1381.7H1189.5" stroke="#000" stroke-width="2.5" fill="none"/><path d="M1235.2 982.5H1245.2M1240.2 982.5V1041.0M1235.2 1041.0H1245.2" stroke="#000" stroke-width="2.5" fill="none"/><path d="M1290.9 969.1H1300.9M1295.9 969.1V1184.3M1290.9 1184.3H1300.9" stroke="#000" stroke-width="2.5" fill="none"/><path d="M1346.6 1253.5H1356.6M1351.6 1253.5V1404.8M1346.6 1404.8H1356.6" stroke="#000" stroke-width="2.5" fill="none"/><circle cx="627.5" cy="1366.8" r="6.2" fill="#000" stroke="#3a3a3a" stroke-width="2.2"/><circle cx="634.5" cy="1479.3" r="6.2" fill="#000" stroke="#3a3a3a" stroke-width="2.2"/><circle cx="622.3" cy="1546.3" r="6.2" fill="#000" stroke="#3a3a3a" stroke-width="2.2"/><rect x="677.2" y="1328.0" width="11.6" height="11.6" fill="#000" stroke="#3a3a3a" stroke-width="2.2"/><rect x="685.2" y="1442.6" width="11.6" height="11.6" fill="#000" stroke="#3a3a3a" stroke-width="2.2"/><rect x="671.0" y="1466.5" width="11.6" height="11.6" fill="#000" stroke="#3a3a3a" stroke-width="2.2"/><path d="M730.0 1475.0L745.0 1475.0L737.5 1462.5Z" fill="#000" stroke="#3a3a3a" stroke-width="2.2"/><path d="M739.8 1543.6L754.8 1543.6L747.3 1531.1Z" fill="#000" stroke="#3a3a3a" stroke-width="2.2"/><path d="M724.1 1561.7L739.1 1561.7L731.6 1549.2Z" fill="#000" stroke="#3a3a3a" stroke-width="2.2"/><circle cx="787.9" cy="1427.6" r="6.2" fill="#000" stroke="#3a3a3a" stroke-width="2.2"/><circle cx="803.5" cy="1448.4" r="6.2" fill="#000" stroke="#3a3a3a" stroke-width="2.2"/><circle cx="794.8" cy="1516.8" r="6.2" fill="#000" stroke="#3a3a3a" stroke-width="2.2"/><rect x="835.9" y="1508.5" width="11.6" height="11.6" fill="#000" stroke="#3a3a3a" stroke-width="2.2"/><rect x="855.3" y="1516.9" width="11.6" height="11.6" fill="#000" stroke="#3a3a3a" stroke-width="2.2"/><rect x="845.6" y="1534.2" width="11.6" height="11.6" fill="#000" stroke="#3a3a3a" stroke-width="2.2"/><path d="M890.8 1480.8L905.8 1480.8L898.3 1468.3Z" fill="#000" stroke="#3a3a3a" stroke-width="2.2"/><path d="M909.1 1488.1L924.1 1488.1L916.6 1475.6Z" fill="#000" stroke="#3a3a3a" stroke-width="2.2"/><path d="M900.1 1551.3L915.1 1551.3L907.6 1538.8Z" fill="#000" stroke="#3a3a3a" stroke-width="2.2"/><circle cx="963.5" cy="1207.8" r="6.2" fill="#000" stroke="#3a3a3a" stroke-width="2.2"/><circle cx="969.5" cy="1376.3" r="6.2" fill="#000" stroke="#3a3a3a" stroke-width="2.2"/><circle cx="954.5" cy="1434.3" r="6.2" fill="#000" stroke="#3a3a3a" stroke-width="2.2"/><rect x="1011.3" y="1335.4" width="11.6" height="11.6" fill="#000" stroke="#3a3a3a" stroke-width="2.2"/><rect x="1019.0" y="1396.0" width="11.6" height="11.6" fill="#000" stroke="#3a3a3a" stroke-width="2.2"/><rect x="1006.9" y="1436.2" width="11.6" height="11.6" fill="#000" stroke="#3a3a3a" stroke-width="2.2"/><path d="M1065.5 1399.1L1080.5 1399.1L1073.0 1386.6Z" fill="#000" stroke="#3a3a3a" stroke-width="2.2"/><path d="M1058.1 1448.3L1073.1 1448.3L1065.6 1435.8Z" fill="#000" stroke="#3a3a3a" stroke-width="2.2"/><path d="M1075.5 1445.0L1090.5 1445.0L1083.0 1432.5Z" fill="#000" stroke="#3a3a3a" stroke-width="2.2"/><path d="M1113.4 1398.5L1128.4 1398.5L1120.9 1411.0Z" fill="#000" stroke="#3a3a3a" stroke-width="2.2"/><path d="M1129.4 1425.9L1144.4 1425.9L1136.9 1438.4Z" fill="#000" stroke="#3a3a3a" stroke-width="2.2"/><path d="M1121.7 1474.5L1136.7 1474.5L1129.2 1487.0Z" fill="#000" stroke="#3a3a3a" stroke-width="2.2"/><path d="M1184.5 1272.8L1192.0 1280.3L1184.5 1287.8L1177.0 1280.3Z" fill="#000" stroke="#3a3a3a" stroke-width="2.2"/><path d="M1191.8 1355.5L1199.3 1363.0L1191.8 1370.5L1184.3 1363.0Z" fill="#000" stroke="#3a3a3a" stroke-width="2.2"/><path d="M1178.8 1389.9L1186.3 1397.4L1178.8 1404.9L1171.3 1397.4Z" fill="#000" stroke="#3a3a3a" stroke-width="2.2"/><circle cx="1239.7" cy="936.6" r="7" fill="#808080"/><path d="M1239.7 952.0L1246.4 956.8L1243.8 964.7L1235.6 964.7L1233.0 956.8Z" fill="#000" stroke="#3a3a3a" stroke-width="2.2"/><path d="M1247.1 1018.3L1253.8 1023.1L1251.2 1031.0L1243.0 1031.0L1240.4 1023.1Z" fill="#000" stroke="#3a3a3a" stroke-width="2.2"/><path d="M1233.0 1048.4L1239.7 1053.2L1237.1 1061.1L1228.9 1061.1L1226.3 1053.2Z" fill="#000" stroke="#3a3a3a" stroke-width="2.2"/><circle cx="1295.0" cy="840.2" r="7" fill="#808080"/><path d="M1295.0 856.8L1297.5 863.4L1304.5 863.7L1299.0 868.1L1300.9 874.9L1295.0 871.0L1289.1 874.9L1291.0 868.1L1285.5 863.7L1292.5 863.4Z" fill="#1a1a1a" stroke="#333" stroke-width="1.5"/><path d="M1304.0 1136.3L1306.5 1142.9L1313.5 1143.2L1308.0 1147.6L1309.9 1154.4L1304.0 1150.5L1298.1 1154.4L1300.0 1147.6L1294.5 1143.2L1301.5 1142.9Z" fill="#1a1a1a" stroke="#333" stroke-width="1.5"/><path d="M1290.6 1212.7L1293.1 1219.3L1300.1 1219.6L1294.6 1224.0L1296.5 1230.8L1290.6 1226.9L1284.7 1230.8L1286.6 1224.0L1281.1 1219.6L1288.1 1219.3Z" fill="#1a1a1a" stroke="#333" stroke-width="1.5"/><path d="M1354.4 1359.8L1367.4 1372.8M1354.4 1372.8L1367.4 1359.8" stroke="#2a2a2a" stroke-width="4.2" fill="none"/><path d="M1338.0 1428.8L1351.0 1441.8M1338.0 1441.8L1351.0 1428.8" stroke="#2a2a2a" stroke-width="4.2" fill="none"/><path d="M1345.4 1177.8L1358.4 1190.8M1345.4 1190.8L1358.4 1177.8" stroke="#2a2a2a" stroke-width="4.2" fill="none"/><path d="M738.60 1421.10L738.60 1414.50M738.60 1421.10L744.88 1419.06M738.60 1421.10L742.48 1426.44M738.60 1421.10L734.72 1426.44M738.60 1421.10L732.32 1419.06" stroke="#808080" stroke-width="2.30" fill="none"/><path d="M738.60 1446.10L738.60 1439.50M738.60 1446.10L744.88 1444.06M738.60 1446.10L742.48 1451.44M738.60 1446.10L734.72 1451.44M738.60 1446.10L732.32 1444.06" stroke="#808080" stroke-width="2.30" fill="none"/><path d="M849.70 1461.70L849.70 1455.10M849.70 1461.70L855.98 1459.66M849.70 1461.70L853.58 1467.04M849.70 1461.70L845.82 1467.04M849.70 1461.70L843.42 1459.66" stroke="#808080" stroke-width="2.30" fill="none"/><path d="M849.70 1487.10L849.70 1480.50M849.70 1487.10L855.98 1485.06M849.70 1487.10L853.58 1492.44M849.70 1487.10L845.82 1492.44M849.70 1487.10L843.42 1485.06" stroke="#808080" stroke-width="2.30" fill="none"/><path d="M1017.10 1317.60L1017.10 1311.00M1017.10 1317.60L1023.38 1315.56M1017.10 1317.60L1020.98 1322.94M1017.10 1317.60L1013.22 1322.94M1017.10 1317.60L1010.82 1315.56" stroke="#808080" stroke-width="2.30" fill="none"/><path d="M1350.90 1148.70L1350.90 1142.10M1350.90 1148.70L1357.18 1146.66M1350.90 1148.70L1354.78 1154.04M1350.90 1148.70L1347.02 1154.04M1350.90 1148.70L1344.62 1146.66" stroke="#808080" stroke-width="2.30" fill="none"/><text transform="translate(644.3,1590.5) rotate(-45)" font-size="29.5" text-anchor="end">iP</text><text transform="translate(701.1,1590.5) rotate(-45)" font-size="29.5" text-anchor="end">tZ</text><text transform="translate(759.4,1590.5) rotate(-45)" font-size="29.5" text-anchor="end">cZ</text><text transform="translate(813.9,1590.5) rotate(-45)" font-size="29.5" text-anchor="end">iPR</text><text transform="translate(868.3,1590.5) rotate(-45)" font-size="29.5" text-anchor="end">tZR</text><text transform="translate(922.1,1590.5) rotate(-45)" font-size="29.5" text-anchor="end">cZR</text><text transform="translate(979.9,1590.5) rotate(-45)" font-size="29.5" text-anchor="end">iP7G</text><text transform="translate(1035.5,1590.5) rotate(-45)" font-size="29.5" text-anchor="end">tZ7G</text><text transform="translate(1092.5,1590.5) rotate(-45)" font-size="29.5" text-anchor="end">DHZ7G</text><text transform="translate(1148.4,1590.5) rotate(-45)" font-size="29.5" text-anchor="end">iP9G</text><text transform="translate(1203.4,1590.5) rotate(-45)" font-size="29.5" text-anchor="end">cZ9G</text><text transform="translate(1260.0,1590.5) rotate(-45)" font-size="29.5" text-anchor="end">DHZ9G</text><text transform="translate(1314.3,1590.5) rotate(-45)" font-size="29.5" text-anchor="end">tZOG</text><text transform="translate(1371.5,1590.5) rotate(-45)" font-size="29.5" text-anchor="end">cZOG</text>
</svg>
</body></html>
